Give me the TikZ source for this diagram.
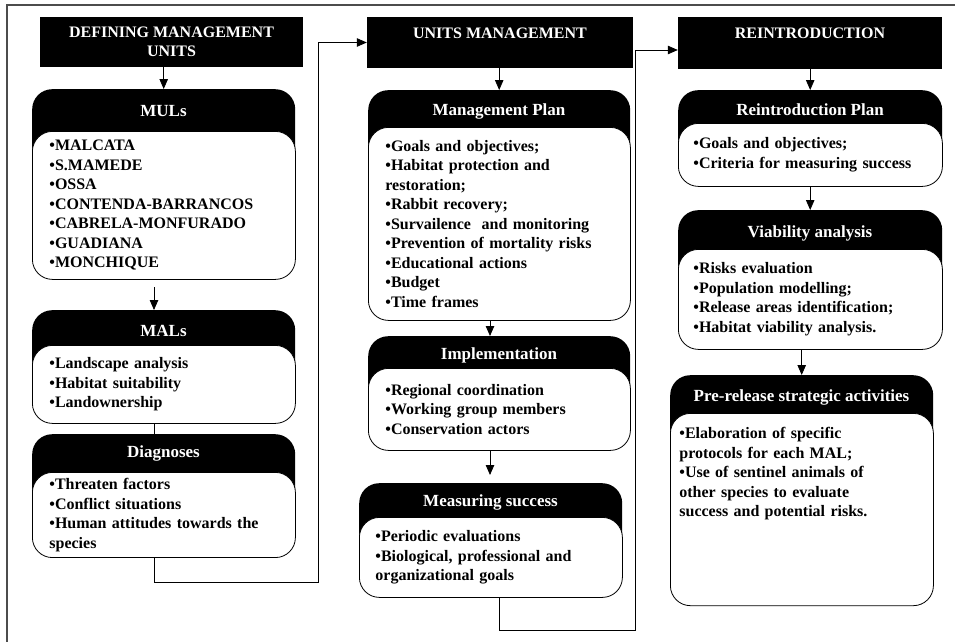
\documentclass[tikz,border=0pt]{standalone}
\usepackage{fontspec}
\setmainfont{Liberation Serif}
\usepackage{tikz}
\usetikzlibrary{calc,positioning,arrows.meta}
\tikzset{
  txt/.style={font=\bfseries\fontsize{16}{19.5}\selectfont},
  main/.style={txt, fill=black, text=white, align=center, inner sep=0pt},
  hdr/.style={fill=black, rounded corners=20pt, anchor=north west, inner sep=0pt},
  ttl/.style={font=\bfseries\fontsize{17}{19.5}\selectfont, text=white},
  body/.style={txt, draw, line width=0.8pt, fill=white, rounded corners=20pt, anchor=north west, align=left, inner xsep=17pt, inner ysep=6pt},
  arr/.style={line width=0.8pt, -{Triangle[length=10pt,width=8.5pt]}},
  lnk/.style={line width=0.8pt}
}
\begin{document}
\begin{tikzpicture}[x=1pt,y=-1pt]
        \useasboundingbox (0,0) rectangle (955,642);
        \draw[line width=1.5pt, black!70] (955,5) -- (7,5) -- (7,642);

        \node[main, minimum width=263pt, minimum height=50pt] (h1) at (171.5,42) {DEFINING MANAGEMENT\\UNITS};
        \node[main, minimum width=266pt, minimum height=51pt] (h2) at (500,42.5) {UNITS MANAGEMENT\\~};
        \node[main, minimum width=264pt, minimum height=52pt] (h3) at (810,43) {REINTRODUCTION\\~};

        \node[hdr, minimum width=263pt, minimum height=86pt] (mulsH) at (32,89) {};
        \node[body, text width=229pt, minimum height=148pt] (muls) at (32,131) {%
          •MALCATA\\•S.MAMEDE\\•OSSA\\•CONTENDA-BARRANCOS\\•CABRELA-MONFURADO\\•GUADIANA\\•MONCHIQUE};
        \node[ttl] (mulsT) at (163.5,111) {MULs};

        \node[hdr, minimum width=263pt, minimum height=80pt] (malsH) at (32,310) {};
        \node[body, text width=229pt, minimum height=78pt] (mals) at (32,345) {%
          •Landscape analysis\\•Habitat suitability\\•Landownership};
        \node[ttl] (malsT) at (163.5,331) {MALs};

        \node[hdr, minimum width=263pt, minimum height=83pt] (diagH) at (32,434) {};
        \node[body, text width=229pt, minimum height=84pt] (diag) at (32,472) {%
          •Threaten factors\\•Conflict situations\\•Human attitudes towards the\\species};
        \node[ttl] (diagT) at (163.5,453) {Diagnoses};

        \node[hdr, minimum width=262pt, minimum height=82pt] (planH) at (368,90) {};
        \node[body, text width=228pt, minimum height=193pt] (plan) at (368,127) {%
          •Goals and objectives;\\•Habitat protection and\\restoration;\\•Rabbit recovery;\\
          •Survailence\ \ and monitoring\\•Prevention of mortality risks\\•Educational actions\\
          •Budget\\•Time frames};
        \node[ttl] (planT) at (499,111) {Management Plan};

        \node[hdr, minimum width=262pt, minimum height=79pt] (implH) at (368,336) {};
        \node[body, text width=228pt, minimum height=82pt] (impl) at (368,368) {%
          •Regional coordination\\•Working group members\\•Conservation actors};
        \node[ttl] (implT) at (499,355) {Implementation};

        \node[hdr, minimum width=263pt, minimum height=79pt] (measH) at (359,483) {};
        \node[body, text width=231pt, inner xsep=16pt, minimum height=80pt] (meas) at (359,517) {%
          •Periodic evaluations\\•Biological, professional and\\organizational goals};
        \node[ttl] (measT) at (490.5,502) {Measuring success};

        \node[hdr, minimum width=264pt, minimum height=80pt] (rplanH) at (678,90) {};
        \node[body, text width=234pt, inner xsep=15pt, minimum height=63pt] (rplan) at (678,123) {%
          •Goals and objectives;\\•Criteria for measuring success};
        \node[ttl] (rplanT) at (810,110) {Reintroduction Plan};

        \node[hdr, minimum width=264pt, minimum height=85pt] (viaH) at (678,210) {};
        \node[body, text width=234pt, inner xsep=15pt, minimum height=100pt] (via) at (678,249) {%
          •Risks evaluation\\•Population modelling;\\•Release areas identification;\\•Habitat viability analysis.};
        \node[ttl] (viaT) at (810,233) {Viability analysis};

        \node[hdr, minimum width=263pt, minimum height=83pt] (preH) at (670,375) {};
        \node[body, text width=245pt, inner xsep=9pt, inner ysep=14pt, text depth=153pt] (pre) at (670,413) {%
          •Elaboration of specific\\protocols for each MAL;\\•Use of sentinel animals of\\other species to evaluate\\success and potential risks.};
        \node[ttl] (preT) at (801.5,397) {Pre-release strategic activities};

        \coordinate (c1) at (154,287);
        \coordinate (c2) at (490,475);
        \coordinate (k1) at (318,582);
        \coordinate (k2) at (635,630);

        \draw[arr] (mulsH.north |- h1.south) -- (mulsH.north);
        \draw[arr] (c1) -- (c1 |- malsH.north);
        \draw[lnk] (c1 |- mals.south) -- (c1 |- diagH.north);
        \draw[arr] (c1 |- diag.south) |- (k1) |- (h2.west);
        \draw[arr] (planH.north |- h2.south) -- (planH.north);
        \draw[arr] (c2 |- plan.south) -- (c2 |- implH.north);
        \draw[arr] (c2 |- impl.south) -- (c2);
        \draw[arr] ([xshift=8.5pt]meas.south) |- (k2) |- ([yshift=-7pt]h3.west);
        \draw[arr] (rplanH.north |- h3.south) -- (rplanH.north);
        \draw[arr] (viaH.north |- rplan.south) -- (viaH.north);
        \draw[arr] (preH.north |- via.south) -- (preH.north);
    \end{tikzpicture}
\end{document}
